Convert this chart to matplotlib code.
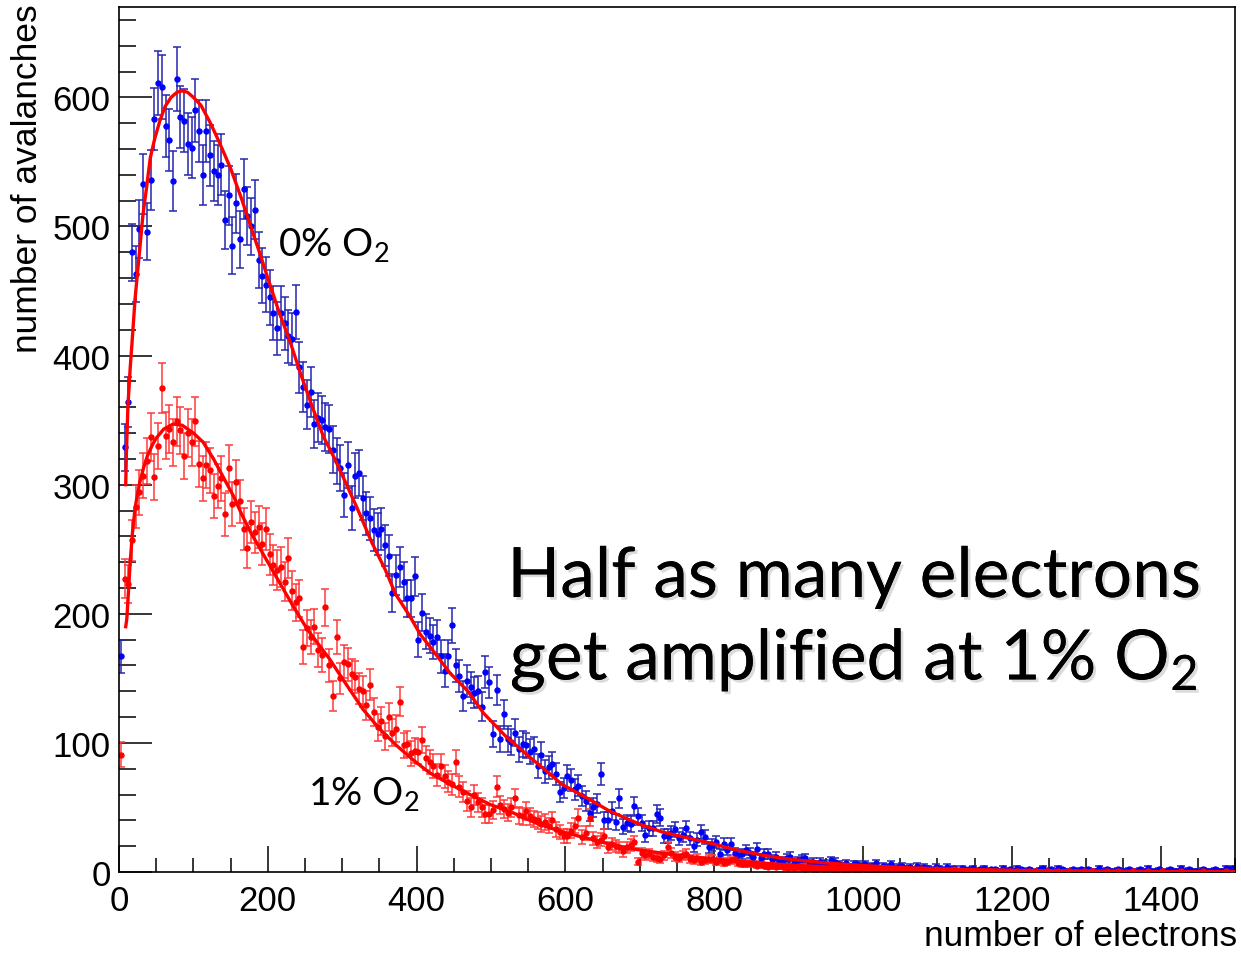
import numpy as np
import matplotlib
matplotlib.use("Agg")
import matplotlib.pyplot as plt
import matplotlib.patheffects as pe
from matplotlib.ticker import MultipleLocator

plt.rcParams['font.family'] = ['Liberation Sans', 'DejaVu Sans']
plt.rcParams['mathtext.fontset'] = 'custom'
plt.rcParams['mathtext.rm'] = 'Lato'
plt.rcParams['mathtext.it'] = 'Lato:italic'
plt.rcParams['mathtext.bf'] = 'Lato:bold'

# histogram: 300 bins of 5 electrons from 0 to 1500
bin_width = 5

counts_0pct = [
    167, 329, 364, 480, 463, 498, 533, 496, 536, 583,
    611, 608, 578, 567, 535, 614, 585, 582, 564, 561,
    590, 574, 540, 574, 555, 543, 540, 548, 505, 524,
    485, 518, 490, 529, 508, 500, 513, 474, 462, 455,
    445, 433, 421, 433, 425, 415, 413, 434, 391, 376,
    362, 372, 347, 352, 350, 345, 343, 327, 318, 313,
    292, 315, 282, 307, 309, 290, 278, 274, 265, 262,
    266, 253, 245, 216, 230, 236, 225, 212, 212, 229,
    180, 201, 186, 183, 178, 182, 167, 156, 167, 191,
    160, 152, 136, 148, 143, 139, 140, 128, 155, 147,
    107, 141, 103, 122, 103, 101, 108, 95, 99, 98,
    93, 95, 82, 91, 78, 81, 84, 76, 62, 65,
    74, 71, 64, 67, 59, 55, 46, 50, 53, 76,
    40, 40, 47, 39, 57, 35, 38, 37, 51, 43,
    38, 29, 34, 34, 45, 42, 28, 28, 30, 33,
    26, 29, 34, 26, 20, 25, 31, 27, 19, 21,
    23, 14, 22, 17, 22, 15, 13, 14, 17, 15,
    12, 18, 11, 14, 14, 10, 12, 8, 9, 11,
    12, 7, 9, 10, 11, 7, 8, 6, 8, 7,
    5, 9, 8, 6, 5, 7, 4, 6, 6, 5,
    6, 4, 5, 7, 3, 5, 4, 6, 3, 4,
    5, 3, 4, 2, 5, 3, 4, 3, 2, 4,
    3, 2, 4, 2, 3, 1, 3, 2, 2, 3,
    1, 2, 3, 1, 2, 2, 1, 3, 1, 2,
    1, 3, 2, 1, 2, 1, 1, 2, 3, 1,
    2, 1, 3, 2, 1, 1, 2, 1, 2, 1,
    2, 1, 1, 3, 1, 2, 1, 1, 2, 1,
    1, 2, 1, 1, 2, 1, 3, 1, 1, 2,
    1, 1, 2, 1, 1, 3, 1, 2, 1, 1,
    1, 2, 1, 1, 2, 1, 1, 3, 2, 3,
]

counts_1pct = [
    91, 227, 223, 257, 283, 294, 307, 318, 337, 306,
    330, 375, 338, 343, 333, 349, 342, 322, 340, 333,
    349, 316, 305, 315, 311, 291, 299, 305, 277, 313,
    285, 302, 287, 266, 251, 271, 263, 267, 254, 266,
    246, 238, 234, 236, 225, 243, 218, 209, 212, 174,
    189, 182, 190, 172, 168, 205, 160, 136, 182, 150,
    163, 161, 153, 151, 142, 140, 129, 145, 124, 112,
    117, 105, 120, 108, 111, 132, 98, 99, 92, 94,
    93, 102, 88, 85, 82, 75, 82, 74, 70, 68,
    85, 66, 62, 55, 50, 60, 54, 50, 45, 45,
    48, 66, 52, 49, 46, 50, 57, 44, 43, 47,
    43, 41, 40, 37, 39, 36, 40, 33, 31, 28,
    28, 32, 36, 42, 27, 30, 42, 26, 23, 25,
    28, 19, 22, 20, 19, 16, 19, 21, 23, 8,
    15, 13, 14, 12, 11, 10, 13, 19, 15, 12,
    11, 13, 14, 10, 9, 11, 8, 9, 10, 10,
    8, 9, 7, 8, 9, 10, 7, 6, 6, 7,
    6, 5, 6, 5, 4, 5, 4, 5, 4, 3,
    4, 3, 4, 3, 2, 3, 2, 2, 3, 2,
    2, 3, 1, 2, 2, 1, 2, 3, 1, 2,
    2, 1, 2, 1, 1, 2, 1, 1, 3, 1,
    1, 2, 1, 1, 1, 2, 1, 1, 1, 2,
    1, 1, 0, 1, 2, 1, 0, 1, 1, 0,
    1, 1, 0, 1, 1, 1, 0, 1, 0, 1,
    0, 1, 0, 0, 1, 0, 1, 0, 0, 1,
    0, 0, 1, 0, 0, 1, 0, 0, 0, 1,
    0, 1, 0, 0, 0, 1, 0, 0, 1, 0,
    0, 0, 1, 0, 0, 0, 1, 0, 0, 0,
    1, 0, 0, 0, 0, 1, 0, 0, 0, 0,
    0, 1, 0, 0, 0, 0, 0, 1, 0, 0,
]

# fitted Polya curves, sampled along the fit
fit0_x = [9, 10, 12, 15, 17.5, 21.6, 25, 28, 32, 37, 42, 48, 55, 62, 70, 78,
          85, 92, 100, 110, 123, 135, 150, 165, 177, 190, 200, 215, 231,
          244, 260, 275, 290, 298, 320, 340, 358, 372, 390, 405, 424, 445,
          469, 490, 520, 550, 581, 595, 630, 660, 700, 730, 760, 797, 830,
          865, 900, 950, 1000, 1050, 1100, 1200, 1300, 1400, 1500]
fit0_y = [300, 325, 361, 390, 410, 444, 465, 483, 508, 530, 553, 568, 582,
          593, 600, 604, 605, 604, 600, 594, 580, 565, 545, 521, 500, 478,
          460, 434, 409, 386, 360, 337, 320, 310, 282, 255, 234, 215, 199,
          184, 170, 154, 140, 123, 105, 90, 75, 68, 57, 47, 37, 31, 27, 22,
          17, 13, 10, 7, 5, 3.5, 2.5, 1.2, 0.6, 0.3, 0.15]

fit1_x = [9, 10.5, 13, 15, 18, 21.6, 25, 28, 33, 38, 45, 50, 60, 73, 85,
          100, 113, 127, 140, 154, 165, 177, 195, 213, 233, 253, 283, 300,
          328, 350, 373, 395, 417, 445, 475, 500, 529, 560, 596, 630, 670,
          700, 750, 800, 850, 900, 950, 1000, 1100, 1200, 1300, 1400, 1500]
fit1_y = [190, 196, 220, 240, 262, 282, 293, 302, 313, 322, 331, 336, 343,
          347, 346, 340, 333, 320, 306, 291, 277, 263, 245, 227, 207, 188,
          165, 150, 126, 111, 98, 87, 77, 68, 59, 52, 46, 38, 31, 26, 20,
          17, 13, 10, 7.5, 5.5, 4, 3, 1.6, 0.9, 0.5, 0.3, 0.15]

fig = plt.figure(figsize=(12.41, 9.54), dpi=100)
ax = fig.add_axes([119 / 1241, 81 / 954, 1116 / 1241, 865 / 954])

centers = bin_width / 2 + bin_width * np.arange(len(counts_0pct))


def draw_hist(counts, mcol, ecol):
    c = np.asarray(counts, dtype=float)
    keep = c > 0
    ax.errorbar(centers[keep], c[keep], yerr=np.sqrt(c[keep]), fmt='o',
                ms=3.6, mfc=mcol, mec=mcol, ecolor=ecol, elinewidth=1.1,
                capsize=3.2, capthick=1.1, zorder=2)


draw_hist(counts_0pct, '#0000ff', '#2626b0')
draw_hist(counts_1pct, '#ff0000', '#ff3a3a')

ax.plot(fit0_x, fit0_y, color='#ff0000', lw=2.4, zorder=4)
ax.plot(fit1_x, fit1_y, color='#ff0000', lw=2.4, zorder=4)

ax.set_xlim(0, 1500)
ax.set_ylim(0, 670)
ax.xaxis.set_major_locator(MultipleLocator(200))
ax.xaxis.set_minor_locator(MultipleLocator(50))
ax.yaxis.set_major_locator(MultipleLocator(100))
ax.yaxis.set_minor_locator(MultipleLocator(20))
ax.tick_params(which='both', direction='in', top=False, right=False,
               width=1.1, labelsize=25)
ax.tick_params(axis='x', which='major', length=19, pad=9)
ax.tick_params(axis='x', which='minor', length=10)
ax.tick_params(axis='y', which='major', length=24, pad=6)
ax.tick_params(axis='y', which='minor', length=12)
for s in ax.spines.values():
    s.set_linewidth(1.2)

fig.text(1237 / 1241, (954 - 937) / 954, 'number of electrons',
         ha='right', va='center', fontsize=25.5)
fig.text(28 / 1241, (954 - 4) / 954, 'number of avalanches',
         ha='center', va='top', rotation=90, fontsize=25.5)

ax.text(214, 478, '0% O$_2$', family='Lato', fontsize=28, va='baseline')
ax.text(254, 53, '1% O$_2$', family='Lato', fontsize=28, va='baseline')

shadow = [pe.withSimplePatchShadow(offset=(2, -2), shadow_rgbFace='#999999',
                                   alpha=0.35), pe.Normal()]
ax.text(988, 213, 'Half as many electrons', family='Lato', fontsize=50,
        ha='center', va='baseline', path_effects=shadow)
ax.text(988, 149, 'get amplified at 1% O$_2$', family='Lato', fontsize=50,
        ha='center', va='baseline', path_effects=shadow)

fig.savefig('out.png', dpi=100)
